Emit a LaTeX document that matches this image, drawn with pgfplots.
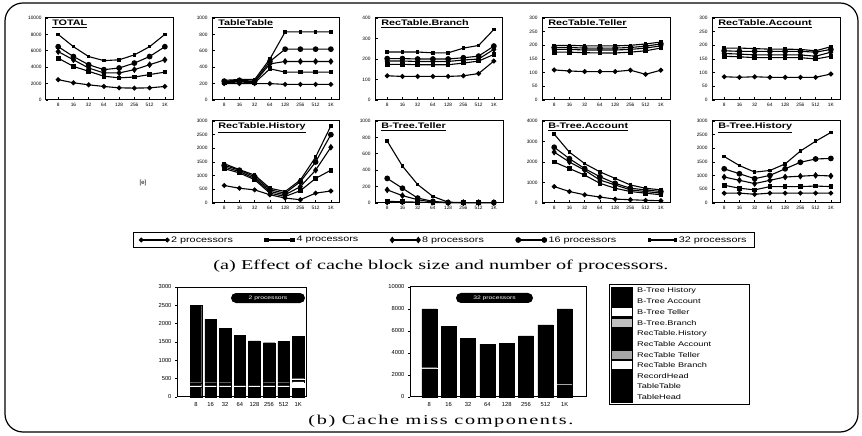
\documentclass[border=0pt]{standalone}
\usepackage{fontspec}
\setmainfont{Liberation Sans}
\newfontfamily\capfont[FakeStretch=1.5]{Liberation Serif}
\newfontfamily\capfontb[FakeStretch=1.5,LetterSpace=12]{Liberation Serif}
\newfontfamily\widesans[FakeStretch=1.35]{Liberation Sans}
\usepackage{pgfplots}
\usepackage{pgfplotstable}
\pgfplotsset{compat=1.18}

\pgfplotstableread{
x p2 p4 p8 p16 p32
0 2480 5100 5900 6500 8000
1 2100 4100 4900 5300 6500
2 1850 3500 3900 4300 5300
3 1650 2900 3300 3700 4800
4 1480 2700 3300 3900 4900
5 1450 2800 3700 4500 5500
6 1480 3100 4300 5300 6500
7 1650 3400 4900 6500 8000
}\tTotal
\pgfplotstableread{
x p2 p4 p8 p16 p32
0 200 210 220 230 240
1 200 220 230 240 250
2 200 210 220 230 250
3 200 380 440 470 500
4 190 340 470 620 830
5 190 340 470 620 830
6 190 340 470 620 830
7 190 340 470 620 830
}\tTable
\pgfplotstableread{
x p2 p4 p8 p16 p32
0 118 174 190 202 234
1 115 174 190 202 234
2 115 172 188 200 234
3 115 172 188 200 230
4 115 172 188 200 230
5 118 180 195 206 253
6 129 190 200 214 266
7 190 222 247 263 344
}\tRBranch
\pgfplotstableread{
x p2 p4 p8 p16 p32
0 110 175 185 192 200
1 106 175 185 192 200
2 104 173 183 190 198
3 104 172 183 190 198
4 104 172 183 190 198
5 109 175 185 192 200
6 94 180 190 197 205
7 109 190 198 205 212
}\tRTeller
\pgfplotstableread{
x p2 p4 p8 p16 p32
0 85 160 170 180 190
1 83 158 168 178 190
2 85 155 165 178 188
3 83 155 165 178 186
4 83 155 165 178 186
5 83 155 165 178 185
6 83 150 160 175 180
7 95 160 175 185 195
}\tRAccount
\pgfplotstableread{
x p2 p4 p8 p16 p32
0 640 1260 1320 1380 1440
1 540 1100 1150 1200 1220
2 480 850 900 960 1020
3 300 360 420 480 540
4 180 240 300 360 420
5 120 450 600 780 840
6 360 900 1200 1500 1680
7 440 1200 2040 2500 2820
}\tRHistory
\pgfplotstableread{
x p2 p4 p8 p16 p32
0 5 20 160 300 755
1 5 15 90 180 450
2 5 10 40 60 225
3 5 5 10 20 80
4 5 5 5 5 10
5 5 5 5 5 5
6 5 5 5 5 5
7 5 5 5 5 5
}\tBTeller
\pgfplotstableread{
x p2 p4 p8 p16 p32
0 800 2000 2480 2720 3360
1 560 1680 2000 2160 2480
2 400 1360 1600 1680 1920
3 290 960 1120 1280 1520
4 190 720 880 960 1200
5 160 560 640 720 880
6 130 480 560 640 720
7 110 400 480 560 640
}\tBAccount
\pgfplotstableread{
x p2 p4 p8 p16 p32
0 360 650 950 1250 1700
1 360 540 830 1070 1370
2 320 480 710 890 1130
3 360 600 830 1010 1190
4 360 600 950 1250 1430
5 360 600 980 1490 1900
6 360 620 1010 1610 2260
7 360 600 990 1630 2580
}\tBHistory

\pgfplotsset{
  panel/.style={scale only axis, width=128pt, height=82pt, anchor=south west,
    xmin=-0.8, xmax=7.6, ymin=0,
    xtick={0,...,7}, xticklabels={8,16,32,64,128,256,512,1K},
    xtick pos=bottom, ytick pos=left, tick align=inside, major tick length=2.5pt,
    tick style={black, line width=0.7pt},
    axis line style={line width=1pt},
    tick label style={font=\fontsize{4.8}{4.8}\selectfont},
    xticklabel style={yshift=0.5pt},
    yticklabel style={xshift=-1pt},
    scaled y ticks=false,
    /pgf/number format/assume math mode=true,
    /pgf/number format/1000 sep={},
    clip=false},
  s2/.style={black, line width=1.1pt, mark=*, mark size=1.9pt},
  s4/.style={black, line width=1.1pt, mark=square*, mark size=1.8pt},
  s8/.style={black, line width=1.1pt, mark=diamond*, mark size=2.5pt},
  s16/.style={black, line width=1.1pt, mark=*, mark size=2.3pt},
  s32/.style={black, line width=1.1pt, mark=square*, mark size=1.2pt},
}
\newcommand\ptitle[1]{\node[anchor=north west, font=\widesans\bfseries\fontsize{8}{9}\selectfont, inner sep=1pt] at (rel axis cs:0.04,0.99) {\underline{#1}};}
\newcommand\fiveplots[1]{%
  \addplot[s2] table[x=x,y=p2] {#1};
  \addplot[s4] table[x=x,y=p4] {#1};
  \addplot[s8] table[x=x,y=p8] {#1};
  \addplot[s16] table[x=x,y=p16] {#1};
  \addplot[s32] table[x=x,y=p32] {#1};}

\begin{document}
\begin{tikzpicture}[x=1pt,y=1pt]
\useasboundingbox (0pt,0pt) rectangle (862pt,436pt);
\draw[line width=1.2pt, rounded corners=18pt] (5pt,4pt) rectangle (858pt,433pt);

% ---- top row ----
\begin{axis}[panel, at={(46pt,336pt)}, ymax=10000, ytick={0,2000,...,10000}]
\fiveplots{\tTotal}
\ptitle{TOTAL}
\end{axis}
\begin{axis}[panel, at={(212pt,336pt)}, ymax=1000, ytick={0,200,...,1000}]
\fiveplots{\tTable}
\ptitle{TableTable}
\end{axis}
\begin{axis}[panel, at={(375pt,336pt)}, ymax=400, ytick={0,100,...,400}]
\fiveplots{\tRBranch}
\ptitle{RecTable.Branch}
\end{axis}
\begin{axis}[panel, at={(542pt,336pt)}, ymax=300, ytick={0,50,...,300}]
\fiveplots{\tRTeller}
\ptitle{RecTable.Teller}
\end{axis}
\begin{axis}[panel, at={(712pt,336pt)}, ymax=300, ytick={0,50,...,300}]
\fiveplots{\tRAccount}
\ptitle{RecTable.Account}
\end{axis}

% ---- second row ----
\begin{axis}[panel, at={(212pt,233pt)}, ymax=3000, ytick={0,500,...,3000}]
\fiveplots{\tRHistory}
\ptitle{RecTable.History}
\end{axis}
\begin{axis}[panel, at={(375pt,233pt)}, ymax=1000, ytick={0,200,...,1000}]
\fiveplots{\tBTeller}
\ptitle{B-Tree.Teller}
\end{axis}
\begin{axis}[panel, at={(542pt,233pt)}, ymax=4000, ytick={0,1000,...,4000}]
\fiveplots{\tBAccount}
\ptitle{B-Tree.Account}
\end{axis}
\begin{axis}[panel, at={(712pt,233pt)}, ymax=3000, ytick={0,500,...,3000}]
\fiveplots{\tBHistory}
\ptitle{B-Tree.History}
\end{axis}

\node[font=\fontsize{6}{6}\selectfont] at (143pt,253pt) {[e]};

% ---- legend ----
\begin{axis}[hide axis, at={(444pt,196pt)}, anchor=center, scale only axis, width=10pt, height=10pt,
  xmin=0, xmax=1, ymin=0, ymax=1,
  legend columns=5,
  legend style={at={(0.5,0.5)}, anchor=center, draw=black, line width=1pt,
    font=\widesans\fontsize{8}{9}\selectfont, inner ysep=1.5pt, inner xsep=6pt,
    /tikz/every even column/.append style={column sep=30pt}},
  legend image code/.code={\draw[mark repeat=1,#1] plot coordinates {(0pt,0pt) (26pt,0pt)};}]
\addlegendimage{s2}\addlegendentry{2 processors}
\addlegendimage{s4}\addlegendentry{4 processors}
\addlegendimage{s8}\addlegendentry{8 processors}
\addlegendimage{s16}\addlegendentry{16 processors}
\addlegendimage{s32}\addlegendentry{32 processors}
\end{axis}

\node[font=\capfont\fontsize{13.5}{15}\selectfont] at (441pt,170pt) {(a) Effect of cache block size and number of processors.};

% ---- bar chart: 2 processors ----
\begin{axis}[at={(177pt,39pt)}, anchor=south west, scale only axis, width=130pt, height=110pt,
  ybar stacked, bar width=11.5pt, xmin=-1.3, xmax=7.6, ymin=0, ymax=3000, ytick={0,500,...,3000},
  xtick={0,...,7}, xticklabels={8,16,32,64,128,256,512,1K},
  xtick pos=bottom, ytick pos=left, xtick style={draw=none}, tick align=outside,
  major tick length=2pt, tick style={black, line width=0.5pt},
  axis line style={line width=1pt},
  tick label style={font=\fontsize{5.8}{5.8}\selectfont},
  scaled y ticks=false,
  /pgf/number format/assume math mode=true, /pgf/number format/1000 sep={}, clip=false]
\addplot[fill=black, draw=black] coordinates {(0,270)(1,270)(2,270)(3,270)(4,270)(5,270)(6,270)(7,230)};
\addplot[fill=white, draw=none] coordinates {(0,30)(1,30)(2,30)(3,30)(4,30)(5,30)(6,30)(7,180)};
\addplot[fill=black, draw=black] coordinates {(0,70)(1,70)(2,70)(3,70)(4,70)(5,70)(6,70)(7,50)};
\addplot[fill=white, draw=none] coordinates {(0,25)(1,25)(2,25)(3,0)(4,0)(5,25)(6,25)(7,40)};
\addplot[fill=black, draw=black] coordinates {(0,2105)(1,1725)(2,1475)(3,1320)(4,1160)(5,1085)(6,1115)(7,1160)};
\node[fill=black, rounded corners=5pt, text=white, font=\widesans\fontsize{5}{5}\selectfont, minimum width=74pt, minimum height=10pt, inner sep=0pt] at (rel axis cs:0.7,0.9) {2 processors};
\end{axis}

% ---- bar chart: 32 processors ----
\begin{axis}[at={(410pt,39pt)}, anchor=south west, scale only axis, width=176pt, height=110pt,
  ybar stacked, bar width=15pt, xmin=-1, xmax=8.1, ymin=0, ymax=10000, ytick={0,2000,...,10000},
  xtick={0,...,7}, xticklabels={8,16,32,64,128,256,512,1K},
  xtick pos=bottom, ytick pos=left, xtick style={draw=none}, tick align=outside,
  major tick length=2pt, tick style={black, line width=0.5pt},
  axis line style={line width=1pt},
  tick label style={font=\fontsize{5.8}{5.8}\selectfont},
  scaled y ticks=false,
  /pgf/number format/assume math mode=true, /pgf/number format/1000 sep={}, clip=false]
\addplot[fill=black, draw=black] coordinates {(0,2550)(1,6450)(2,5300)(3,4800)(4,4900)(5,5550)(6,6550)(7,1050)};
\addplot[fill=white, draw=none] coordinates {(0,120)(1,0)(2,0)(3,0)(4,0)(5,0)(6,0)(7,100)};
\addplot[fill=black, draw=black] coordinates {(0,5330)(1,0)(2,0)(3,0)(4,0)(5,0)(6,0)(7,6850)};
\node[fill=black, rounded corners=5pt, text=white, font=\widesans\fontsize{5}{5}\selectfont, minimum width=77pt, minimum height=10pt, inner sep=0pt] at (rel axis cs:0.48,0.9) {32 processors};
\end{axis}

\node[font=\capfontb\fontsize{13.5}{15}\selectfont] at (441pt,15pt) {(b) Cache miss components.};

% ---- bar legend ----
\draw[line width=1pt] (609pt,31pt) rectangle (749pt,151pt);
\fill[black] (611pt,33pt) rectangle (633pt,149pt);
\foreach \i/\t in {0/B-Tree History,1/B-Tree Account,2/B-Tree Teller,3/B-Tree.Branch,4/RecTable.History,5/RecTable Account,6/RecTable Teller,7/RecTable Branch,8/RecordHead,9/TableTable,10/TableHead}{
  \node[anchor=west, font=\widesans\fontsize{6.8}{7}\selectfont, inner sep=0pt] at (637pt,{(145-10.6*\i)*1pt}) {\t};
}
\fill[white] (612pt,{(145-10.6*2-4)*1pt}) rectangle (632pt,{(145-10.6*2+4)*1pt});
\fill[black!25] (612pt,{(145-10.6*3-4)*1pt}) rectangle (632pt,{(145-10.6*3+4)*1pt});
\fill[black!35] (612pt,{(145-10.6*6-4)*1pt}) rectangle (632pt,{(145-10.6*6+4)*1pt});
\fill[white] (612pt,{(145-10.6*7-4)*1pt}) rectangle (632pt,{(145-10.6*7+4)*1pt});
\end{tikzpicture}
\end{document}
